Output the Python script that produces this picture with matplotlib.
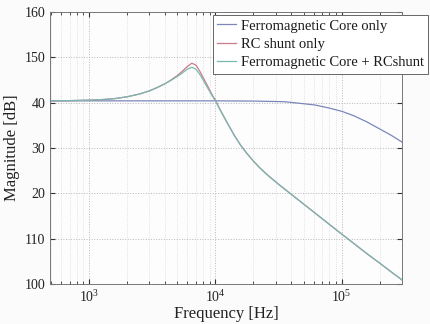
import matplotlib
matplotlib.use("Agg")
import matplotlib.pyplot as plt
from matplotlib.ticker import FixedLocator, LogLocator, NullFormatter

# Values (Hz, dB)
FREQ_CORE = [490, 1000, 3000, 10000, 20000, 30000, 35500, 45000, 61000, 80000,
             100000, 125000, 157000, 200000, 250000, 300000]
MAG_CORE = [140.4, 140.4, 140.4, 140.4, 140.35, 140.25, 140.2, 139.9, 139.5, 138.8,
            138.1, 137.1, 135.8, 134.2, 132.7, 131.3]

FREQ_RC = [490, 700, 1000, 1300, 1600, 2000, 2500, 3000, 3500, 4000,
           4500, 5000, 5500, 6000, 6500, 7000, 7500, 8000, 8700, 9300,
           10000, 11200, 12600, 14100, 15800, 17800, 20000, 22400, 25100, 28200,
           31600, 39800, 50100, 63100, 79400, 100000, 126000, 158000, 200000, 251000,
           300000]
MAG_RC = [140.4, 140.45, 140.55, 140.7, 140.9, 141.3, 141.9, 142.6, 143.4, 144.2,
          145.1, 146.0, 147.0, 148.0, 148.7, 148.3, 147.0, 145.5, 143.6, 142.0,
          140.5, 137.8, 135.2, 132.8, 130.65, 128.75, 127.1, 125.65, 124.35, 123.15,
          122.0, 119.8, 117.6, 115.4, 113.2, 111.0, 108.85, 106.7, 104.6, 102.5,
          100.9]
MAG_BOTH = [140.4, 140.45, 140.55, 140.7, 140.9, 141.3, 141.9, 142.6, 143.4, 144.2,
            145.0, 145.8, 146.6, 147.4, 147.8, 147.4, 146.3, 145.0, 143.2, 141.8,
            140.4, 137.8, 135.2, 132.8, 130.65, 128.75, 127.1, 125.65, 124.35, 123.15,
            122.0, 119.8, 117.6, 115.4, 113.2, 111.0, 108.85, 106.7, 104.6, 102.5,
            100.9]

LABELS = ["Ferromagnetic Core only", "RC shunt only", "Ferromagnetic Core + RCshunt"]
Y_TICKS = [100, 110, 120, 130, 140, 150, 160]
Y_TICK_LABELS = ["100", "110", "20", "30", "40", "150", "160"]

plt.rcParams["font.family"] = ["Liberation Serif", "DejaVu Serif"]
plt.rcParams["mathtext.fontset"] = "stix"

fig = plt.figure(figsize=(4.31, 3.24), dpi=100, facecolor="#fbfbfb")
ax = fig.add_axes([50 / 431, 1 - 284 / 324, 352 / 431, 272 / 324])
ax.set_facecolor("#fdfdfd")

ax.plot(FREQ_CORE, MAG_CORE, color="#7d86bb", lw=0.9, label=LABELS[0])
ax.plot(FREQ_RC, MAG_RC, color="#cc7a8a", lw=0.9, label=LABELS[1])
ax.plot(FREQ_RC, MAG_BOTH, color="#79b8b2", lw=0.9, label=LABELS[2])

ax.set_xscale("log")
ax.set_xlim(490, 3e5)
ax.set_ylim(100, 160)
ax.yaxis.set_major_locator(FixedLocator(Y_TICKS))
ax.set_yticklabels(Y_TICK_LABELS)
ax.xaxis.set_major_locator(LogLocator(base=10))
ax.xaxis.set_minor_locator(LogLocator(base=10, subs=range(2, 10)))
ax.xaxis.set_minor_formatter(NullFormatter())

ax.grid(True, which="major", ls=":", color="#b8b8b8", lw=0.7)
ax.grid(True, which="minor", axis="x", ls=":", color="#d8d8d8", lw=0.6)
ax.tick_params(which="both", direction="in", top=True, right=True,
               labelsize=10, colors="#333333", labelcolor="#222222")
ax.tick_params(which="major", length=3.5)
ax.tick_params(which="minor", length=2)
for s in ax.spines.values():
    s.set_color("#777777")
    s.set_linewidth(0.7)

ax.set_xlabel("Frequency [Hz]", fontsize=12, color="#222222", labelpad=1)
ax.set_ylabel("Magnitude [dB]", fontsize=12, color="#222222", labelpad=3)

leg = ax.legend(loc="upper left", bbox_to_anchor=(213 / 431, 1 - 15 / 324),
                bbox_transform=fig.transFigure, borderaxespad=0, fancybox=False,
                fontsize=10.5, handlelength=1.3, handletextpad=0.3,
                borderpad=0.3, labelspacing=0.35, framealpha=1)
leg.get_frame().set_edgecolor("#666666")
leg.get_frame().set_linewidth(0.7)
for t in leg.get_texts():
    t.set_color("#1a1a1a")

fig.savefig("out.png", dpi=100, facecolor=fig.get_facecolor())
